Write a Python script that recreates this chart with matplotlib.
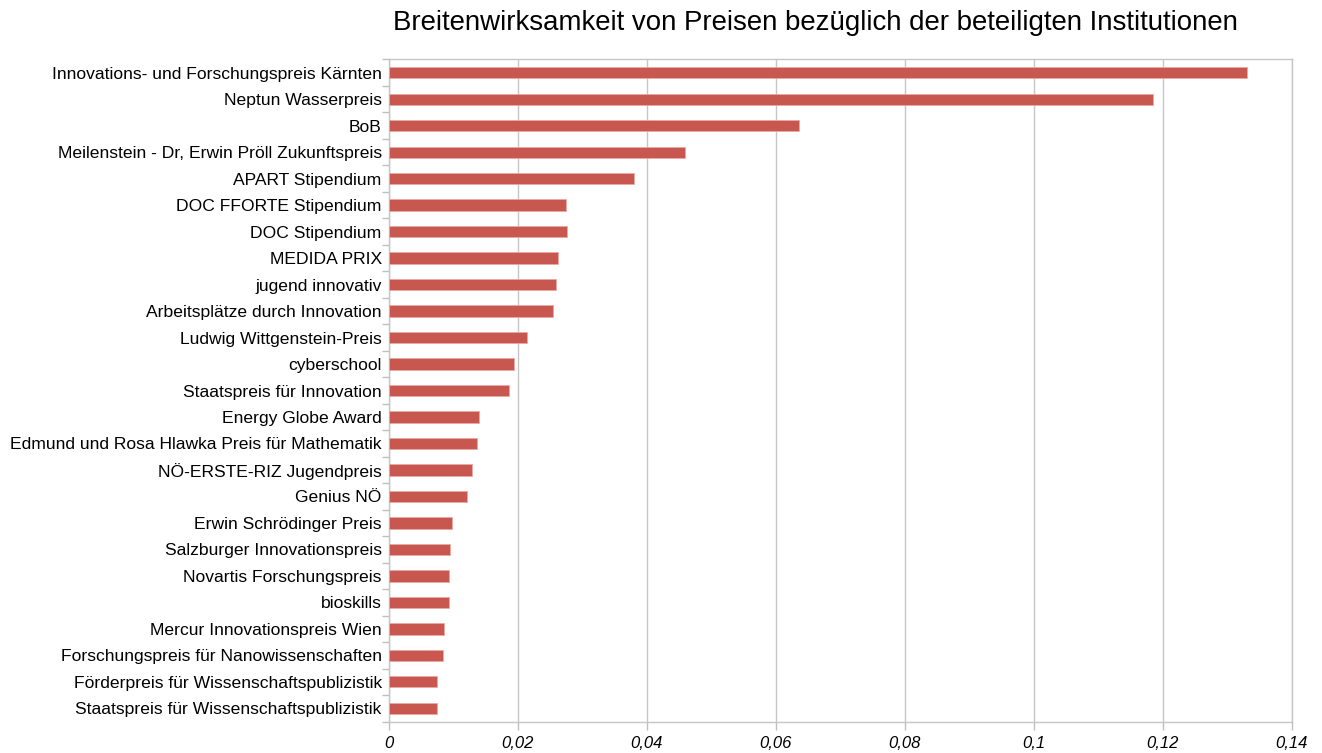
import numpy as np
from matplotlib import pyplot as plt
from matplotlib.ticker import FixedLocator

plt.rcParams['font.family'] = ['Liberation Sans', 'DejaVu Sans']

title = 'Breitenwirksamkeit von Preisen bezüglich der beteiligten Institutionen'

prizes = [
    'Innovations- und Forschungspreis Kärnten',
    'Neptun Wasserpreis',
    'BoB',
    'Meilenstein - Dr, Erwin Pröll Zukunftspreis',
    'APART Stipendium',
    'DOC FFORTE Stipendium',
    'DOC Stipendium',
    'MEDIDA PRIX',
    'jugend innovativ',
    'Arbeitsplätze durch Innovation',
    'Ludwig Wittgenstein-Preis',
    'cyberschool',
    'Staatspreis für Innovation',
    'Energy Globe Award',
    'Edmund und Rosa Hlawka Preis für Mathematik',
    'NÖ-ERSTE-RIZ Jugendpreis',
    'Genius NÖ',
    'Erwin Schrödinger Preis',
    'Salzburger Innovationspreis',
    'Novartis Forschungspreis',
    'bioskills',
    'Mercur Innovationspreis Wien',
    'Forschungspreis für Nanowissenschaften',
    'Förderpreis für Wissenschaftspublizistik',
    'Staatspreis für Wissenschaftspublizistik',
]
values = [
    0.1331, 0.1185, 0.0637, 0.0459, 0.0380, 0.0275, 0.0276, 0.0262,
    0.0260, 0.0255, 0.0214, 0.0194, 0.0187, 0.0140, 0.0137, 0.0129,
    0.0122, 0.0098, 0.0095, 0.0094, 0.0094, 0.0086, 0.0085, 0.0075,
    0.0075,
]
x_ticks = [0, 0.02, 0.04, 0.06, 0.08, 0.1, 0.12, 0.14]
x_labels = ['0', '0,02', '0,04', '0,06', '0,08', '0,1', '0,12', '0,14']

fig = plt.figure(figsize=(13.22, 7.53), dpi=100)
ax = fig.add_axes([0.294, 0.0416, 0.683, 0.8796])

y = np.arange(len(prizes))
ax.barh(y, values, height=0.42, color='#C8574F', edgecolor='#E9A9A2', linewidth=0.6, zorder=3)

ax.set_xlim(0, 0.14)
ax.set_ylim(len(prizes) - 0.5, -0.5)

ax.set_yticks(y)
ax.set_yticklabels(prizes, fontsize=12.6)
ax.yaxis.set_minor_locator(FixedLocator(np.arange(-0.5, len(prizes), 1)))
ax.tick_params(axis='y', which='major', length=0, pad=5)
ax.tick_params(axis='y', which='minor', length=5, color='#BFBFBF', width=1)

ax.set_xticks(x_ticks)
ax.set_xticklabels(x_labels, fontsize=12, fontstyle='italic')
ax.tick_params(axis='x', length=6, color='#BFBFBF', width=1, pad=4)

ax.grid(axis='x', color='#C6C6C6', linewidth=1, zorder=0)
for s in ax.spines.values():
    s.set_color('#C6C6C6')
    s.set_linewidth(1)

fig.text(0.6165, 0.969, title, ha='center', va='center', fontsize=19.9)

fig.savefig('out.png', dpi=100)
